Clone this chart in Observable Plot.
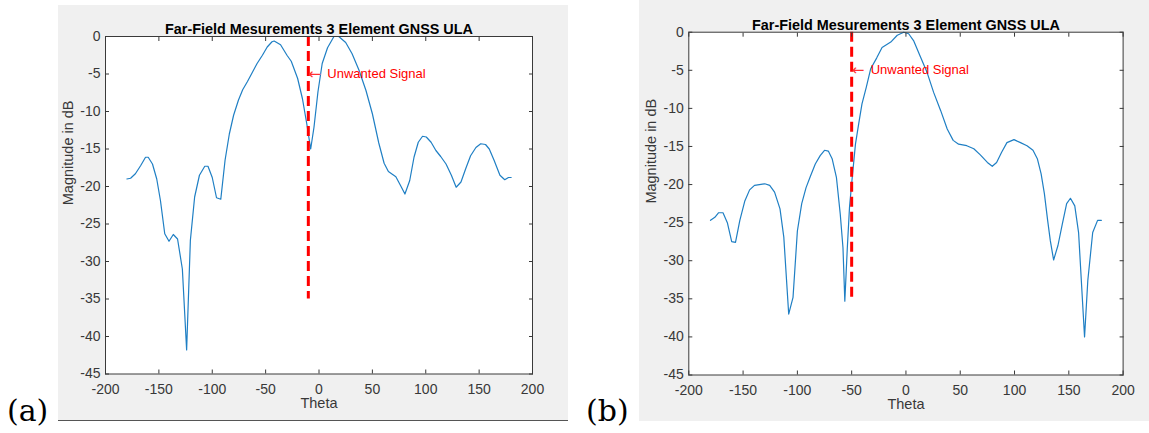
<!DOCTYPE html>
<html><head><meta charset="utf-8">
<script src="https://cdn.jsdelivr.net/npm/d3@7"></script>
<script src="https://cdn.jsdelivr.net/npm/@observablehq/plot@0.6"></script>
<style>
body{margin:0;background:#fff;}
#page{position:relative;width:1149px;height:433px;overflow:hidden;font-family:"Liberation Sans",Arial,sans-serif;}
.panel{position:absolute;}
.sub{position:absolute;font-family:"DejaVu Serif",serif;font-size:30px;color:#000;line-height:1;}
</style></head><body>
<div id="page">
 <div class="panel" id="pa" style="left:58px;top:5px"></div>
 <div class="panel" id="pb" style="left:639px;top:0px"></div>
 <div style="position:absolute;left:58px;top:420px;width:510px;height:1px;background:#555"></div>
 <div class="sub" style="left:7px;top:396px">(a)</div>
 <div class="sub" style="left:586px;top:396px">(b)</div>
</div>
<script>
// ---------- data ----------
const xTicks = [-200, -150, -100, -50, 0, 50, 100, 150, 200];
const yTicks = [-45, -40, -35, -30, -25, -20, -15, -10, -5, 0];
const titleText = "Far-Field Mesurements 3 Element GNSS ULA";
const xLabelText = "Theta";
const yLabelText = "Magnitude in dB";
const arrowText = "\u2190";
const annotationText = "Unwanted Signal";

// panel (a)
const thetaA = [-180,-176.5,-172,-167,-162.5,-160,-156,-152,-148.5,-144.5,-140.5,-136.5,-132.5,-128,-124,-120.5,-116.5,-112,-107,-104,-100,-96,-92,-88,-84,-80,-75.5,-71.5,-67,-62.5,-58,-53,-48.5,-44,-42,-36,-30,-26,-20,-15.5,-11.5,-7.8,-4.7,-1,3,8,14,18.5,25,31,37.5,44,50,56,61,65,72,76.5,80.5,85,89,93,97,100.5,105,109.5,114,119,124,128.5,133,137.5,142,147,151.5,156,159.5,164,169.5,174,177.5,180];
const magA = [-19.0,-18.9,-18.3,-17.2,-16.1,-16.1,-17.0,-19.0,-21.9,-26.3,-27.3,-26.4,-27.0,-31.0,-41.8,-27.2,-21.4,-18.5,-17.3,-17.3,-18.8,-21.5,-21.7,-16.5,-13.0,-10.5,-8.5,-7.1,-6.0,-4.8,-3.6,-2.5,-1.4,-0.7,-0.6,-1.1,-2.5,-3.3,-5.6,-8.3,-11.6,-15.0,-12.1,-7.4,-3.6,-1.5,0,0,-0.8,-2.3,-4.5,-7.2,-10.3,-14.2,-16.9,-18.0,-18.7,-19.9,-21.0,-19.2,-16.1,-14.1,-13.3,-13.4,-14.1,-15.2,-16.0,-17.0,-18.5,-20.1,-19.4,-17.6,-15.9,-14.8,-14.3,-14.4,-15.0,-16.5,-18.5,-19.1,-18.8,-18.8];
const signalThetaA = -10;

// panel (b)
const thetaB = [-180,-176,-172.5,-168.5,-164.5,-160.5,-157,-153,-148.5,-144,-139.5,-135,-130,-125.5,-121,-116,-112.5,-108,-104,-100,-96,-92,-88,-83.5,-79,-75,-71.5,-68,-64,-60.5,-58,-56.3,-54,-52,-49.5,-46.5,-43.5,-40.5,-36.5,-32.5,-27,-22,-14,-8,-2,2.5,7,13.5,19.5,25.5,32,38,43.5,48.5,56,62.5,68.5,75,79.5,83.5,88,93,99.5,105.5,111.5,117,121,124.5,127.5,130.5,133,136,140,144,148,151.5,155.5,159,164.5,167.5,172,176.5,180];
const magB = [-24.7,-24.3,-23.7,-23.7,-25.0,-27.5,-27.6,-24.7,-22.2,-20.7,-20.1,-20.0,-19.9,-20.1,-21.0,-23.2,-26.9,-37.0,-34.8,-26.1,-22.5,-20.4,-18.9,-17.3,-16.2,-15.5,-15.6,-16.6,-19.1,-23.9,-28.3,-35.3,-28.3,-23.0,-19.1,-14.7,-12.0,-9.4,-7.2,-4.8,-3.4,-2.0,-1.3,-0.4,0,-0.2,-1.1,-3.3,-5.3,-7.9,-10.3,-12.7,-14.2,-14.7,-14.9,-15.3,-16.1,-17.1,-17.6,-17.1,-15.8,-14.5,-14.1,-14.5,-14.9,-15.5,-16.6,-18.6,-21.2,-24.7,-27.4,-29.9,-28.0,-25.2,-22.5,-21.8,-22.8,-26.3,-40.0,-32.6,-26.3,-24.7,-24.7];
const signalThetaB = -50;

// dashed marker extent and annotation level (data units)
const dashTop = 0, dashBottom = -35, annotMag = -5;

// ---------- drawing ----------
const FONT = '"Liberation Sans", Arial, sans-serif';
const LINE = "#1f7fc4";
const fmt = d => String(d);

function makePanel({theta, mag, signalTheta, width, height, mL, mR, mT, mB}) {
  const pts = theta.map((t, i) => ({theta: t, mag: mag[i]}));
  return Plot.plot({
    width, height,
    marginLeft: mL, marginRight: mR, marginTop: mT, marginBottom: mB,
    style: {background: "#f0f0f0", fontFamily: FONT, fontSize: "14px", color: "#383838", overflow: "visible"},
    x: {domain: [xTicks[0], xTicks[xTicks.length - 1]]},
    y: {domain: [yTicks[0], yTicks[yTicks.length - 1]]},
    marks: [
      Plot.frame({fill: "white", stroke: null}),
      Plot.line(pts, {x: "theta", y: "mag", stroke: LINE, strokeWidth: 1.2}),
      Plot.ruleX([signalTheta], {x: d => d, y1: dashTop, y2: dashBottom, stroke: "red", strokeWidth: 3, strokeDasharray: "10,5"}),
      Plot.text([arrowText], {x: signalTheta, y: annotMag, textAnchor: "start", fill: "#ff3030", fontSize: 15, fontFamily: '"DejaVu Sans", sans-serif', dx: 0}),
      Plot.text([annotationText], {x: signalTheta, y: annotMag, textAnchor: "start", fill: "red", fontSize: 13, dx: 19}),
      Plot.frame({stroke: "#3a3a3a"}),
      Plot.axisX({anchor: "bottom", ticks: xTicks, tickSize: 0, tickPadding: 10, tickFormat: fmt, label: null, fontSize: 14}),
      Plot.axisX({anchor: "bottom", ticks: xTicks, tickSize: -4, tickFormat: () => "", label: null}),
      Plot.axisX({anchor: "top", ticks: xTicks, tickSize: -4, tickFormat: () => "", label: null}),
      Plot.axisY({anchor: "left", ticks: yTicks, tickSize: 0, tickPadding: 5, tickFormat: fmt, label: null, fontSize: 14}),
      Plot.axisY({anchor: "left", ticks: yTicks, tickSize: -4, tickFormat: () => "", label: null}),
      Plot.axisY({anchor: "right", ticks: yTicks, tickSize: -4, tickFormat: () => "", label: null}),
      Plot.text([titleText], {frameAnchor: "top", dy: -12.7, fontWeight: "bold", fontSize: 14.4, fill: "#000"}),
      Plot.text([xLabelText], {frameAnchor: "bottom", dy: 34, fontSize: 14.5, fill: "#383838"}),
      Plot.text([yLabelText], {frameAnchor: "left", rotate: -90, dx: -37, fontSize: 14.5, fill: "#383838"})
    ]
  });
}

document.getElementById("pa").append(makePanel({
  theta: thetaA, mag: magA, signalTheta: signalThetaA,
  width: 510, height: 415, mL: 47, mR: 36, mT: 31, mB: 46.5
}));
document.getElementById("pb").append(makePanel({
  theta: thetaB, mag: magB, signalTheta: signalThetaB,
  width: 510, height: 421, mL: 49.3, mR: 26.4, mT: 31.7, mB: 46.5
}));
</script>
</body></html>
